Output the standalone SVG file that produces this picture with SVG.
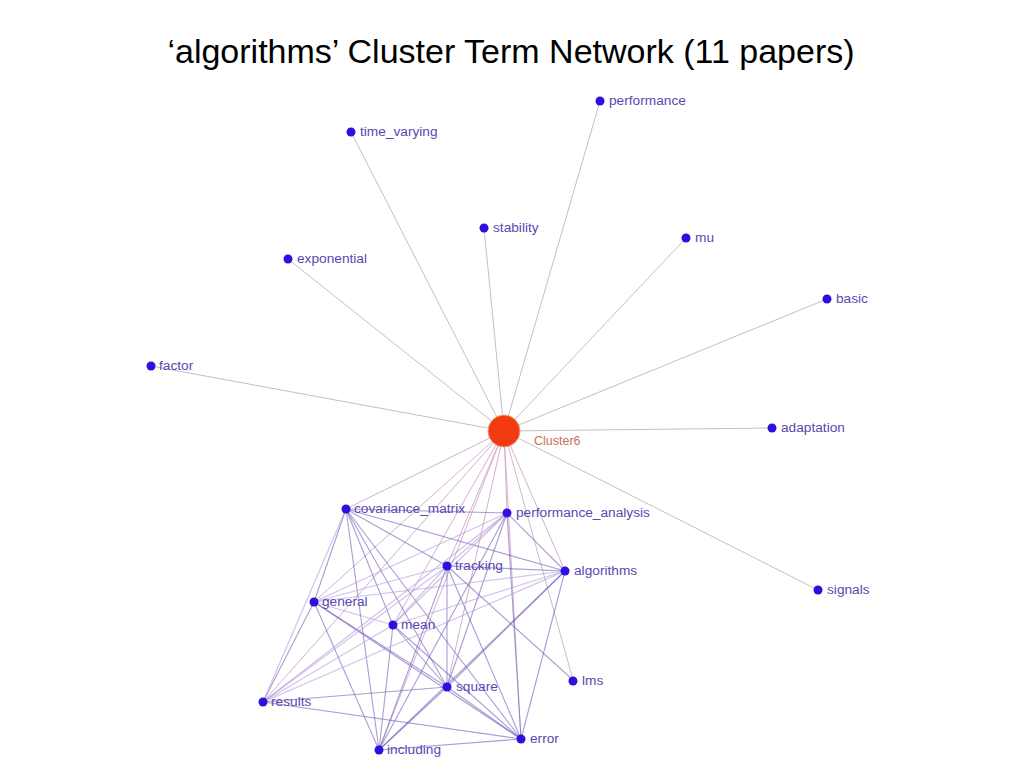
<svg xmlns="http://www.w3.org/2000/svg" width="1024" height="768" viewBox="0 0 1024 768">
<style>
.t{font-family:"Liberation Sans",Arial,sans-serif;font-size:13.7px;fill:#5a48b0}
.n{fill:#2a12dc}
.hub{stroke:#c9bcc8;stroke-width:1;fill:none}
.hc{stroke:#d7aed4;stroke-width:1;fill:none}
.e{stroke:#6f5cb8;stroke-width:1.1;stroke-opacity:0.6;fill:none}
.el{stroke:#b69ada;stroke-width:1.2;stroke-opacity:0.6;fill:none}
</style>
<rect width="1024" height="768" fill="#ffffff"/>
<text x="511" y="63" text-anchor="middle" font-family="Liberation Sans,Arial,sans-serif" font-size="34" fill="#000">‘algorithms’ Cluster Term Network (11 papers)</text>
<g id="connectors">
<g class="hub">
<line x1="504" y1="431" x2="600" y2="101"/>
<line x1="504" y1="431" x2="351" y2="132"/>
<line x1="504" y1="431" x2="484" y2="228"/>
<line x1="504" y1="431" x2="686" y2="238"/>
<line x1="504" y1="431" x2="288" y2="259"/>
<line x1="504" y1="431" x2="827" y2="299"/>
<line x1="504" y1="431" x2="151" y2="366"/>
<line x1="504" y1="431" x2="772" y2="428"/>
<line x1="504" y1="431" x2="818" y2="590"/>
<line x1="504" y1="431" x2="573" y2="680"/>
</g>
<g class="hc">
<line x1="504" y1="431" x2="346" y2="509"/>
<line x1="504" y1="431" x2="507" y2="513"/>
<line x1="504" y1="431" x2="447" y2="566"/>
<line x1="504" y1="431" x2="565" y2="571"/>
<line x1="504" y1="431" x2="314" y2="602"/>
<line x1="504" y1="431" x2="393" y2="625"/>
<line x1="504" y1="431" x2="447" y2="687"/>
<line x1="504" y1="431" x2="263" y2="702"/>
<line x1="504" y1="431" x2="521" y2="739"/>
<line x1="504" y1="431" x2="379" y2="750"/>
</g>
<g class="e">
<line x1="346" y1="509" x2="507" y2="513"/>
<line x1="346" y1="509" x2="314" y2="602"/>
<line x1="346" y1="509" x2="379" y2="750"/>
<line x1="346" y1="509" x2="393" y2="625"/>
<line x1="346" y1="509" x2="447" y2="687"/>
<line x1="346" y1="509" x2="521" y2="739"/>
<line x1="346" y1="509" x2="565" y2="571"/>
<line x1="346" y1="509" x2="447" y2="566"/>
<line x1="507" y1="513" x2="565" y2="571"/>
<line x1="507" y1="513" x2="521" y2="739"/>
<line x1="507" y1="513" x2="447" y2="687"/>
<line x1="507" y1="513" x2="379" y2="750"/>
<line x1="447" y1="566" x2="447" y2="687"/>
<line x1="447" y1="566" x2="521" y2="739"/>
<line x1="447" y1="566" x2="573" y2="680"/>
<line x1="447" y1="566" x2="565" y2="571"/>
<line x1="447" y1="566" x2="379" y2="750"/>
<line x1="565" y1="571" x2="379" y2="750"/>
<line x1="565" y1="571" x2="521" y2="739"/>
<line x1="565" y1="571" x2="447" y2="687"/>
<line x1="314" y1="602" x2="447" y2="687"/>
<line x1="314" y1="602" x2="379" y2="750"/>
<line x1="314" y1="602" x2="521" y2="739"/>
<line x1="314" y1="602" x2="263" y2="702"/>
<line x1="393" y1="625" x2="447" y2="687"/>
<line x1="393" y1="625" x2="521" y2="739"/>
<line x1="393" y1="625" x2="379" y2="750"/>
<line x1="447" y1="687" x2="521" y2="739"/>
<line x1="447" y1="687" x2="379" y2="750"/>
<line x1="447" y1="687" x2="263" y2="702"/>
<line x1="263" y1="702" x2="521" y2="739"/>
<line x1="379" y1="750" x2="521" y2="739"/>
</g>
<g class="el">
<line x1="507" y1="513" x2="447" y2="566"/>
<line x1="507" y1="513" x2="314" y2="602"/>
<line x1="507" y1="513" x2="393" y2="625"/>
<line x1="507" y1="513" x2="263" y2="702"/>
<line x1="447" y1="566" x2="314" y2="602"/>
<line x1="447" y1="566" x2="393" y2="625"/>
<line x1="447" y1="566" x2="263" y2="702"/>
<line x1="565" y1="571" x2="314" y2="602"/>
<line x1="565" y1="571" x2="393" y2="625"/>
<line x1="565" y1="571" x2="263" y2="702"/>
<line x1="314" y1="602" x2="393" y2="625"/>
<line x1="393" y1="625" x2="263" y2="702"/>
<line x1="346" y1="509" x2="263" y2="702"/>
</g>
</g>
<g id="node-cluster6"><circle cx="504" cy="431" r="16" fill="#f23a10" stroke="#e8a080" stroke-width="1"/><text x="534" y="445" font-family="Liberation Sans,Arial,sans-serif" font-size="12.5" fill="#c8705a">Cluster6</text></g>
<g id="node-performance"><circle class="n" cx="600" cy="101" r="4.5"/><text class="t" x="609" y="105">performance</text></g>
<g id="node-time_varying"><circle class="n" cx="351" cy="132" r="4.5"/><text class="t" x="360" y="136">time_varying</text></g>
<g id="node-stability"><circle class="n" cx="484" cy="228" r="4.5"/><text class="t" x="493" y="232">stability</text></g>
<g id="node-mu"><circle class="n" cx="686" cy="238" r="4.5"/><text class="t" x="695" y="242">mu</text></g>
<g id="node-exponential"><circle class="n" cx="288" cy="259" r="4.5"/><text class="t" x="297" y="263">exponential</text></g>
<g id="node-basic"><circle class="n" cx="827" cy="299" r="4.5"/><text class="t" x="836" y="303">basic</text></g>
<g id="node-factor"><circle class="n" cx="151" cy="366" r="4.5"/><text class="t" x="159" y="370">factor</text></g>
<g id="node-adaptation"><circle class="n" cx="772" cy="428" r="4.5"/><text class="t" x="781" y="432">adaptation</text></g>
<g id="node-signals"><circle class="n" cx="818" cy="590" r="4.5"/><text class="t" x="827" y="594">signals</text></g>
<g id="node-covariance_matrix"><circle class="n" cx="346" cy="509" r="4.5"/><text class="t" x="354" y="513">covariance_matrix</text></g>
<g id="node-performance_analysis"><circle class="n" cx="507" cy="513" r="4.5"/><text class="t" x="516" y="517">performance_analysis</text></g>
<g id="node-tracking"><circle class="n" cx="447" cy="566" r="4.5"/><text class="t" x="455" y="570">tracking</text></g>
<g id="node-algorithms"><circle class="n" cx="565" cy="571" r="4.5"/><text class="t" x="574" y="575">algorithms</text></g>
<g id="node-general"><circle class="n" cx="314" cy="602" r="4.5"/><text class="t" x="322" y="606">general</text></g>
<g id="node-mean"><circle class="n" cx="393" cy="625" r="4.5"/><text class="t" x="401" y="629">mean</text></g>
<g id="node-lms"><circle class="n" cx="573" cy="681" r="4.5"/><text class="t" x="582" y="685">lms</text></g>
<g id="node-square"><circle class="n" cx="447" cy="687" r="4.5"/><text class="t" x="456" y="691">square</text></g>
<g id="node-results"><circle class="n" cx="263" cy="702" r="4.5"/><text class="t" x="271" y="706">results</text></g>
<g id="node-error"><circle class="n" cx="521" cy="739" r="4.5"/><text class="t" x="530" y="743">error</text></g>
<g id="node-including"><circle class="n" cx="379" cy="750" r="4.5"/><text class="t" x="387" y="754">including</text></g>
</svg>
